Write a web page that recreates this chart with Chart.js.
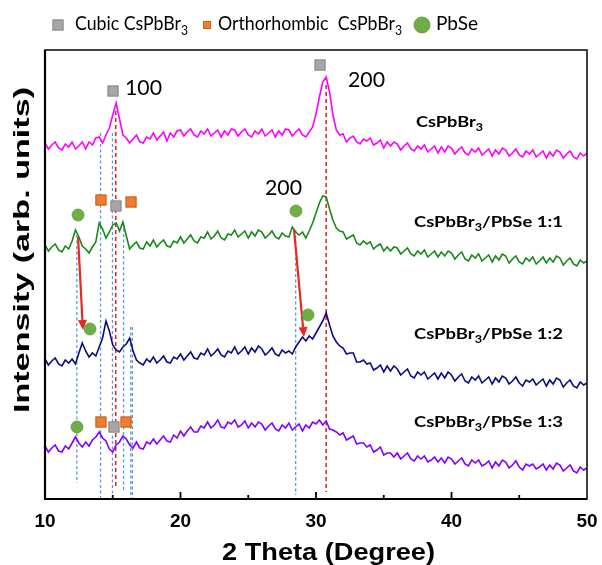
<!DOCTYPE html>
<html><head><meta charset="utf-8">
<script src="https://cdn.jsdelivr.net/npm/chart.js@4.4.0/dist/chart.umd.min.js"></script>
<style>html,body{margin:0;padding:0;background:#fff}</style>
</head><body>
<canvas id="c" width="602" height="565"></canvas>
<script>
// 2θ sampling grid (degrees)
const theta = [
10,10.25,10.5,10.75,11,11.25,11.5,11.75,
12,12.25,12.5,12.75,13,13.25,13.5,13.75,
14,14.25,14.5,14.75,15,15.25,15.5,15.75,
16,16.25,16.5,16.75,17,17.25,17.5,17.75,
18,18.25,18.5,18.75,19,19.25,19.5,19.75,
20,20.25,20.5,20.75,21,21.25,21.5,21.75,
22,22.25,22.5,22.75,23,23.25,23.5,23.75,
24,24.25,24.5,24.75,25,25.25,25.5,25.75,
26,26.25,26.5,26.75,27,27.25,27.5,27.75,
28,28.25,28.5,28.75,29,29.25,29.5,29.75,
30,30.25,30.5,30.75,31,31.25,31.5,31.75,
32,32.25,32.5,32.75,33,33.25,33.5,33.75,
34,34.25,34.5,34.75,35,35.25,35.5,35.75,
36,36.25,36.5,36.75,37,37.25,37.5,37.75,
38,38.25,38.5,38.75,39,39.25,39.5,39.75,
40,40.25,40.5,40.75,41,41.25,41.5,41.75,
42,42.25,42.5,42.75,43,43.25,43.5,43.75,
44,44.25,44.5,44.75,45,45.25,45.5,45.75,
46,46.25,46.5,46.75,47,47.25,47.5,47.75,
48,48.25,48.5,48.75,49,49.25,49.5,49.75,
50];

// Intensities (arb. units, stacked offsets included)
const cspbbr3 = [
356,350,354,357,351,349,355,352,
357,350,353,357,350,357,354,361,
362,356,364,371,384,396,380,364,
361,356,360,364,357,356,362,360,
366,359,363,367,358,366,362,368,
369,363,367,370,364,362,368,365,
370,363,366,369,362,368,364,370,
369,363,367,370,364,362,368,365,
370,363,366,369,362,368,364,370,
369,363,367,370,364,362,367,372,
385,402,417,422,407,384,369,364,
365,357,361,363,357,355,360,358,
361,354,356,359,351,357,353,357,
355,349,353,356,350,348,353,350,
354,347,350,353,346,352,347,353,
351,345,349,352,346,344,350,347,
351,344,347,350,343,349,345,351,
349,343,346,350,344,342,348,345,
349,342,345,348,341,347,343,349,
347,341,345,348,342,340,346,343,
346];

const pbse11 = [
254,248,252,255,249,247,253,250,
258,269,262,253,250,246,252,257,
276,270,261,267,274,276,268,277,
263,250,254,257,251,250,257,253,
259,252,256,259,253,252,258,256,
262,256,260,264,258,256,262,261,
267,260,263,268,261,259,265,264,
269,262,265,268,261,267,263,269,
267,261,264,268,262,260,266,263,
262,272,267,264,267,261,268,276,
286,296,303,302,290,279,271,268,
267,260,262,264,256,254,258,255,
257,250,253,255,248,252,248,252,
251,245,248,251,245,243,248,245,
249,242,245,248,242,247,243,248,
246,240,244,247,240,238,244,241,
245,238,241,244,237,243,239,245,
243,236,240,243,237,235,241,238,
242,235,238,242,236,241,237,243,
241,234,238,241,235,233,239,236,
238];

const pbse12 = [
140,134,138,141,135,133,139,136,
140,135,146,156,148,142,146,143,
152,161,178,168,154,149,147,152,
155,161,148,139,136,134,140,137,
142,136,139,143,137,136,142,140,
145,139,143,147,141,140,146,144,
150,143,146,150,144,142,148,146,
152,145,148,152,145,151,147,153,
150,144,147,151,145,143,149,146,
148,145,152,157,162,158,163,160,
166,172,178,186,174,163,157,153,
151,145,146,146,137,137,139,135,
136,129,131,134,127,133,128,133,
130,124,127,130,123,121,127,124,
127,120,123,126,120,126,121,127,
124,118,122,125,118,116,122,119,
123,116,119,122,115,121,117,123,
121,115,118,122,116,113,119,117,
120,114,117,120,113,119,115,121,
119,112,116,119,113,111,117,114,
116];

const pbse13 = [
53,47,51,54,48,47,53,50,
56,62,56,52,57,53,59,62,
67,61,58,50,47,54,57,63,
60,54,51,57,51,50,57,55,
60,55,59,63,58,57,64,61,
68,63,68,72,67,67,73,71,
77,71,74,79,72,71,77,75,
79,72,74,78,71,76,72,77,
75,69,73,76,70,68,74,71,
76,69,72,75,68,74,71,77,
75,79,74,78,70,69,67,64,
66,59,61,63,55,56,56,52,
54,47,49,52,44,46,46,42,
46,40,43,46,40,38,43,40,
43,37,39,42,37,41,36,42,
40,35,38,41,35,33,39,36,
39,33,35,38,31,37,33,39,
37,31,34,38,32,29,35,33,
35,30,32,35,29,34,30,36,
34,28,31,34,28,26,32,29,
31];

const xTickValues = [10, 20, 30, 40, 50];
const seriesNames = ["CsPbBr3", "CsPbBr3/PbSe 1:1", "CsPbBr3/PbSe 1:2", "CsPbBr3/PbSe 1:3"];

const COL = {magenta:'#FF00FF', green:'#17891A', navy:'#0C0C82', purple:'#8200FF',
  red:'#E8281E', blue:'#5B9BD5', gray:'#A6A6A6', grayEdge:'#8A8A8A',
  orange:'#ED7D31', orangeEdge:'#C9621E', pbse:'#70AD47', pbseEdge:'#5E9A38'};

function pts(arr){ return theta.map((t,i)=>({x:t, y:arr[i]})); }

function drawRich(ctx, parts, x, y, o){
  const size=o.size, weight=o.weight||'normal', fam=o.family||'Lato';
  const sub=Math.round(size*0.68);
  const fonts=parts.map(p=>`${weight} ${p[1]?sub:size}px ${fam}`);
  let total=0;
  const ws=parts.map((p,i)=>{ctx.font=fonts[i]; const w=ctx.measureText(p[0]).width; total+=w; return w;});
  const sx=o.width? o.width/total : 1;
  ctx.save();
  ctx.translate(x,y);
  if(o.rotate) ctx.rotate(o.rotate);
  ctx.scale(sx,1);
  ctx.fillStyle=o.color||'#000';
  ctx.textAlign='left'; ctx.textBaseline='alphabetic';
  let cx=0;
  parts.forEach((p,i)=>{ctx.font=fonts[i]; ctx.fillText(p[0],cx,p[1]?size*0.28:0); cx+=ws[i];});
  ctx.restore();
}

function sq(ctx,x,y,s,fill,edge){
  ctx.fillStyle=fill; ctx.fillRect(x-s/2,y-s/2,s,s);
  ctx.strokeStyle=edge; ctx.lineWidth=1; ctx.strokeRect(x-s/2+0.5,y-s/2+0.5,s-1,s-1);
}
function dot(ctx,x,y,r){
  ctx.beginPath(); ctx.arc(x,y,r,0,Math.PI*2); ctx.fillStyle=COL.pbse; ctx.fill();
  ctx.strokeStyle=COL.pbseEdge; ctx.lineWidth=0.8; ctx.stroke();
}

const deco = {
  id:'deco',
  beforeDatasetsDraw(chart){
    const ctx=chart.ctx, xs=chart.scales.x, ys=chart.scales.y;
    const X=v=>xs.getPixelForValue(v), Y=v=>ys.getPixelForValue(v);
    ctx.save();
    ctx.lineWidth=1.3; ctx.strokeStyle=COL.blue; ctx.setLineDash([3,2.5]);
    [[12.35,264,16],[14.1,366,0],[14.98,366,0],[15.8,276,9],[16.33,172,0],[16.45,172,0],[28.5,269,4]].forEach(l=>{
      ctx.beginPath(); ctx.moveTo(X(l[0]),Y(l[1])); ctx.lineTo(X(l[0]),Y(l[2])); ctx.stroke();
    });
    ctx.lineWidth=1.6; ctx.strokeStyle=COL.red; ctx.setLineDash([4,3]);
    [[15.22,388,11],[30.75,414,7]].forEach(l=>{
      ctx.beginPath(); ctx.moveTo(X(l[0]),Y(l[1])); ctx.lineTo(X(l[0]),Y(l[2])); ctx.stroke();
    });
    ctx.restore();
  },
  afterDatasetsDraw(chart){
    const ctx=chart.ctx, xs=chart.scales.x, ys=chart.scales.y, a=chart.chartArea;
    const X=v=>xs.getPixelForValue(v), Y=v=>ys.getPixelForValue(v);
    ctx.save();
    // arrows
    [[12.44,262,12.80,169],[28.38,269,29.11,162]].forEach(r=>{
      const x1=X(r[0]),y1=Y(r[1]),x2=X(r[2]),y2=Y(r[3]);
      const ang=Math.atan2(y2-y1,x2-x1), L=10, W=4.5;
      const bx=x2-L*Math.cos(ang), by=y2-L*Math.sin(ang);
      ctx.strokeStyle=COL.red; ctx.lineWidth=2.2;
      ctx.beginPath(); ctx.moveTo(x1,y1); ctx.lineTo(bx,by); ctx.stroke();
      ctx.fillStyle=COL.red; ctx.beginPath();
      ctx.moveTo(x2,y2);
      ctx.lineTo(bx+W*Math.sin(ang), by-W*Math.cos(ang));
      ctx.lineTo(bx-W*Math.sin(ang), by+W*Math.cos(ang));
      ctx.closePath(); ctx.fill();
    });
    // phase markers
    [[15.02,408],[30.30,434],[15.24,293],[15.09,72]].forEach(m=>sq(ctx,X(m[0]),Y(m[1]),11,COL.gray,COL.grayEdge));
    [[14.13,299],[16.35,297],[14.13,77],[15.98,77]].forEach(m=>sq(ctx,X(m[0]),Y(m[1]),11,COL.orange,COL.orangeEdge));
    [[12.44,284],[28.52,288],[13.32,170],[29.41,184],[12.36,72]].forEach(m=>dot(ctx,X(m[0]),Y(m[1]),6));
    // reflection indices
    drawRich(ctx,[["100",false]],125,95,{size:21,width:37});
    drawRich(ctx,[["200",false]],348,87,{size:21,width:37});
    drawRich(ctx,[["200",false]],265,195,{size:21,width:37});
    // sample labels
    const lab=[[416,127,67,[["CsPbBr",false],["3",true]]],
      [414,227,149,[["CsPbBr",false],["3",true],["/PbSe 1:1",false]]],
      [414,339,149,[["CsPbBr",false],["3",true],["/PbSe 1:2",false]]],
      [414,427,149,[["CsPbBr",false],["3",true],["/PbSe 1:3",false]]]];
    lab.forEach(l=>drawRich(ctx,l[3],l[0],l[1],{size:16,weight:'bold',width:l[2]}));
    // frame
    ctx.strokeStyle='#111'; ctx.lineWidth=1.6; ctx.setLineDash([]);
    ctx.strokeRect(a.left,a.top,a.right-a.left,a.bottom-a.top);
    ctx.strokeStyle='#000'; ctx.lineWidth=2.2;
    ctx.beginPath(); ctx.moveTo(a.left,a.top); ctx.lineTo(a.left,a.bottom); ctx.lineTo(a.right,a.bottom); ctx.stroke();
    // inner ticks
    ctx.lineWidth=1.8;
    for(let v=15; v<50; v+=5){
      const px=X(v), len=(v%10===0)?7:4;
      ctx.beginPath(); ctx.moveTo(px,a.bottom); ctx.lineTo(px,a.bottom-len); ctx.stroke();
    }
    // legend
    sq(ctx,58,25,11,COL.gray,COL.grayEdge);
    drawRich(ctx,[["Cubic CsPbBr",false],["3",true]],75,30,{size:19,width:113});
    sq(ctx,207,25,8,COL.orange,COL.orangeEdge);
    drawRich(ctx,[["Orthorhombic  CsPbBr",false],["3",true]],218,30,{size:19,width:184});
    dot(ctx,422,25,8);
    drawRich(ctx,[["PbSe",false]],436,30,{size:19,width:42});
    // axis titles
    drawRich(ctx,[["2 Theta (Degree)",false]],222,560,{size:24,weight:'bold',family:'"Liberation Sans"',width:213});
    drawRich(ctx,[["Intensity (arb. units)",false]],29,413,{size:22,weight:'bold',family:'"Liberation Sans"',width:326,rotate:-Math.PI/2});
    ctx.restore();
  }
};

new Chart(document.getElementById('c'), {
  type:'line',
  data:{datasets:[
    {label:seriesNames[0], data:pts(cspbbr3), borderColor:COL.magenta},
    {label:seriesNames[1], data:pts(pbse11), borderColor:COL.green},
    {label:seriesNames[2], data:pts(pbse12), borderColor:COL.navy},
    {label:seriesNames[3], data:pts(pbse13), borderColor:COL.purple}
  ].map(d=>Object.assign(d,{borderWidth:1.6, pointRadius:0, tension:0, fill:false}))},
  options:{
    responsive:false, animation:false,
    layout:{padding:{left:45,right:15,top:50,bottom:0}},
    plugins:{legend:{display:false}, tooltip:{enabled:false}},
    scales:{
      x:{type:'linear', min:10, max:50,
         afterBuildTicks:s=>{s.ticks=xTickValues.map(v=>({value:v}));},
         afterFit:s=>{s.height=66; s.paddingLeft=0; s.paddingRight=0;},
         grid:{display:false, drawTicks:false}, border:{display:false},
         ticks:{padding:11, color:'#000', font:{family:'"Liberation Sans"', size:19, weight:'bold'}}},
      y:{display:false, min:0, max:449}
    }
  },
  plugins:[deco]
});
</script>
</body></html>
